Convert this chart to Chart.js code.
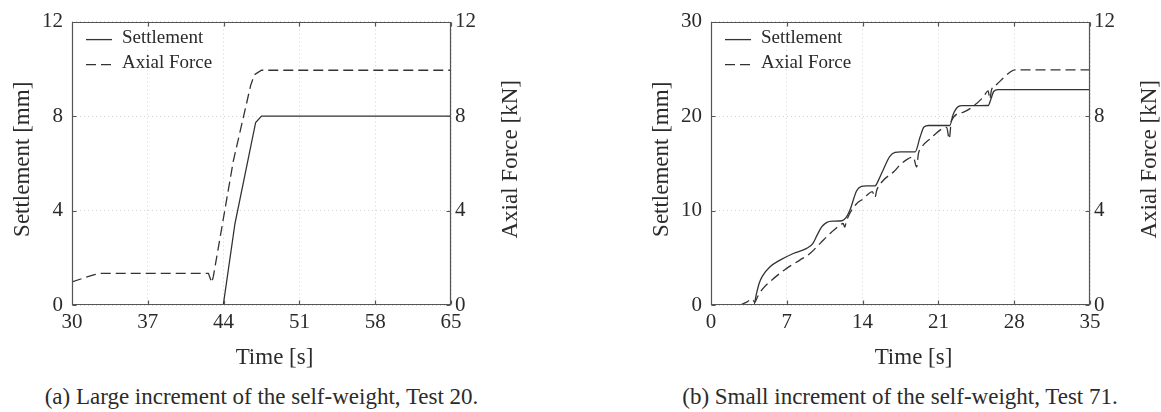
<!DOCTYPE html>
<html>
<head>
<meta charset="utf-8">
<title>Settlement and axial force</title>
<script src="https://cdn.jsdelivr.net/npm/chart.js@4.4.1/dist/chart.umd.min.js"></script>
<style>
  body {
    margin: 0;
    width: 1161px;
    height: 412px;
    position: relative;
    overflow: hidden;
    background: #fff;
    font-family: 'Liberation Serif', 'Times New Roman', serif;
    color: #2b2b2b;
  }
  canvas { position: absolute; top: 0; }
  #chartA { left: 0; }
  #chartB { left: 590px; }
  .caption {
    position: absolute;
    top: 383px;
    font-size: 23px;
    line-height: 28px;
    text-align: center;
    white-space: nowrap;
  }
  #capA { left: 0; width: 523px; }
  #capB { left: 611px; width: 578px; }
</style>
</head>
<body>
<canvas id="chartA" width="560" height="372"></canvas>
<canvas id="chartB" width="571" height="372"></canvas>
<div class="caption" id="capA">(a) Large increment of the self-weight, Test 20.</div>
<div class="caption" id="capB">(b) Small increment of the self-weight, Test 71.</div>

<script>
// ========================================
// Test 20 - large self-weight increment
// ========================================
const timeTicksA = [30, 37, 44, 51, 58, 65];
const settleTicksA = [0, 4, 8, 12];
const forceTicksA = [0, 4, 8, 12];

const settleTimeA = [30, 43.97, 45.05, 46.96, 47.5, 65];
const settleA = [0, 0, 3.45, 7.73, 8.0, 8.0];

const forceTimeA = [30, 32.0, 32.6, 42.6, 42.9, 43.05, 44.9, 46.5, 46.85, 47.5, 65];
const forceA = [0.98, 1.28, 1.34, 1.34, 0.95, 1.2, 6.1, 9.3, 9.75, 9.94, 9.94];

// ========================================
// Test 71 - small self-weight increment
// ========================================
const timeTicksB = [0, 7, 14, 21, 28, 35];
const settleTicksB = [0, 10, 20, 30];
const forceTicksB = [0, 4, 8, 12];

const settleTimeB = [0, 3.95, 4.2, 4.45, 4.75, 5.45, 6.37, 7.6, 8.84, 9.4, 9.8, 10.22, 10.7, 11.2, 12.1,
  12.5, 12.85, 13.45, 13.9, 14.4, 15.15, 15.5, 15.9, 16.5, 17.0, 17.5, 18.85, 19.3, 19.67, 20.1,
  22.05, 22.37, 22.83, 23.2, 25.6, 25.85, 26.1, 26.5, 35];
const settleB = [0, 0, 1.2, 2.3, 3.05, 4.04, 4.75, 5.45, 6.0, 6.5, 7.4, 8.26, 8.75, 8.88, 8.92,
  9.3, 10.1, 12.1, 12.55, 12.62, 12.62, 13.3, 14.3, 15.7, 16.15, 16.2, 16.2, 17.75, 18.85, 19.0,
  19.0, 20.2, 21.0, 21.1, 21.12, 21.8, 22.6, 22.8, 22.8];

const forceTimeB = [2.7, 3.3, 3.8, 4.05, 4.3, 4.68, 5.6, 6.99, 8.2, 9.14, 10.06, 11.14, 11.9, 12.2,
  12.35, 12.53, 13.45, 14.07, 14.38, 14.9, 15.14, 15.3, 15.9, 16.9, 17.5, 18.68, 18.99, 19.15,
  19.45, 20.22, 21.76, 22.0, 22.2, 23.27, 25.12, 25.6, 25.75, 25.9, 26.4, 27.9, 28.1, 35];
const forceB = [0, 0.12, 0.25, 0.12, 0.35, 0.63, 1.05, 1.55, 1.9, 2.18, 2.6, 3.09, 3.38, 3.45,
  3.3, 3.59, 4.29, 4.5, 4.64, 4.8, 4.55, 4.85, 5.27, 5.65, 5.95, 6.26, 5.84, 6.4,
  6.68, 7.03, 7.52, 7.03, 7.8, 8.16, 8.79, 9.07, 8.72, 9.1, 9.35, 9.94, 9.96, 9.96];

const INK = '#2b2b2b';
const LINE = '#333';
const FRAME = '#555';
const GRID = '#d4d4d4';
const SERIF = '"Liberation Serif", "Times New Roman", serif';

Chart.defaults.font.family = SERIF;
Chart.defaults.color = INK;

function series(xs, ys) {
  return xs.map((x, i) => ({ x, y: ys[i] }));
}

// Box around the plot with short inward tick marks on all four sides
const frameTicks = {
  id: 'frameTicks',
  afterDatasetsDraw(chart) {
    const { ctx, chartArea: a, scales } = chart;
    const L = Math.round(a.left) + 0.5, R = Math.round(a.right) - 0.5;
    const T = Math.round(a.top) + 0.5, B = Math.round(a.bottom) - 0.5;
    ctx.save();
    ctx.strokeStyle = FRAME;
    ctx.lineWidth = 1.2;
    ctx.beginPath();
    ctx.rect(L, T, R - L, B - T);
    scales.x.ticks.forEach(t => {
      const px = Math.round(scales.x.getPixelForValue(t.value)) + 0.5;
      ctx.moveTo(px, B); ctx.lineTo(px, B - 4);
      ctx.moveTo(px, T); ctx.lineTo(px, T + 4);
    });
    scales.y.ticks.forEach(t => {
      const py = Math.round(scales.y.getPixelForValue(t.value)) + 0.5;
      ctx.moveTo(L, py); ctx.lineTo(L + 4, py);
    });
    scales.y1.ticks.forEach(t => {
      const py = Math.round(scales.y1.getPixelForValue(t.value)) + 0.5;
      ctx.moveTo(R, py); ctx.lineTo(R - 4, py);
    });
    ctx.stroke();
    ctx.restore();
  }
};

// Axis titles; both vertical titles read bottom-to-top
const axisTitles = {
  id: 'axisTitles',
  afterDraw(chart, args, opts) {
    const { ctx, chartArea: a } = chart;
    ctx.save();
    ctx.fillStyle = INK;
    ctx.font = '23px ' + SERIF;
    ctx.textAlign = 'center';
    ctx.textBaseline = 'middle';
    ctx.fillText(opts.x, (a.left + a.right) / 2 + 13, a.bottom + 53);
    const midY = (a.top + a.bottom) / 2 - 4;
    [[opts.y, a.left - 49], [opts.y1, a.right + 60]].forEach(([text, x]) => {
      ctx.save();
      ctx.translate(x, midY);
      ctx.rotate(-Math.PI / 2);
      ctx.fillText(text, 0, 0);
      ctx.restore();
    });
    ctx.restore();
  }
};

// Legend inside the top-left corner of the plot
const innerLegend = {
  id: 'innerLegend',
  afterDraw(chart) {
    const { ctx, chartArea: a } = chart;
    ctx.save();
    ctx.font = '19px ' + SERIF;
    ctx.textBaseline = 'middle';
    chart.data.datasets.forEach((ds, i) => {
      const y = a.top + 16 + i * 25;
      ctx.strokeStyle = ds.borderColor;
      ctx.lineWidth = ds.borderWidth;
      ctx.setLineDash(ds.borderDash || []);
      ctx.beginPath();
      ctx.moveTo(a.left + 14, y + 2);
      ctx.lineTo(a.left + 40, y + 2);
      ctx.stroke();
      ctx.fillStyle = INK;
      ctx.fillText(ds.label, a.left + 50, y);
    });
    ctx.restore();
  }
};

function fixedTicks(values) {
  return scale => { scale.ticks = values.map(v => ({ value: v })); };
}

function valueAxis(position, ticks, width, padding, onArea) {
  return {
    type: 'linear',
    position,
    min: ticks[0],
    max: ticks[ticks.length - 1],
    afterBuildTicks: fixedTicks(ticks),
    afterFit: s => { s.width = width; },
    grid: { drawOnChartArea: onArea, drawTicks: false, color: GRID, lineWidth: 1 },
    border: { display: false, dash: [1, 3] },
    ticks: { padding, font: { size: 21 }, color: INK }
  };
}

function makeChart(id, cfg) {
  return new Chart(document.getElementById(id), {
    type: 'scatter',
    data: {
      datasets: [{
        label: 'Settlement',
        data: series(cfg.settleTime, cfg.settle),
        yAxisID: 'y',
        showLine: true,
        borderColor: LINE,
        borderWidth: 1.3,
        pointRadius: 0,
        cubicInterpolationMode: cfg.smooth ? 'monotone' : 'default',
        tension: 0
      }, {
        label: 'Axial Force',
        data: series(cfg.forceTime, cfg.force),
        yAxisID: 'y1',
        showLine: true,
        borderColor: LINE,
        borderWidth: 1.3,
        borderDash: [10, 5],
        pointRadius: 0,
        cubicInterpolationMode: cfg.smooth ? 'monotone' : 'default',
        tension: 0
      }]
    },
    options: {
      responsive: false,
      animation: false,
      events: [],
      layout: { padding: { top: 21 } },
      scales: {
        x: {
          type: 'linear',
          min: cfg.timeTicks[0],
          max: cfg.timeTicks[cfg.timeTicks.length - 1],
          afterBuildTicks: fixedTicks(cfg.timeTicks),
          afterFit: s => { s.height = 67; },
          grid: { drawTicks: false, color: GRID, lineWidth: 1 },
          border: { display: false, dash: [1, 3] },
          ticks: { padding: 5, maxRotation: 0, autoSkip: false, font: { size: 21 }, color: INK }
        },
        y: valueAxis('left', cfg.settleTicks, cfg.leftW, 9, true),
        y1: valueAxis('right', cfg.forceTicks, cfg.rightW, 4, false)
      },
      plugins: {
        legend: { display: false },
        tooltip: { enabled: false },
        axisTitles: { x: 'Time [s]', y: 'Settlement [mm]', y1: 'Axial Force [kN]' }
      }
    },
    plugins: [frameTicks, axisTitles, innerLegend]
  });
}

document.addEventListener('DOMContentLoaded', () => {
  makeChart('chartA', {
    timeTicks: timeTicksA, settleTicks: settleTicksA, forceTicks: forceTicksA,
    settleTime: settleTimeA, settle: settleA, forceTime: forceTimeA, force: forceA,
    leftW: 72, rightW: 109, smooth: false
  });
  makeChart('chartB', {
    timeTicks: timeTicksB, settleTicks: settleTicksB, forceTicks: forceTicksB,
    settleTime: settleTimeB, settle: settleB, forceTime: forceTimeB, force: forceB,
    leftW: 121, rightW: 71, smooth: true
  });
});
</script>
</body>
</html>
